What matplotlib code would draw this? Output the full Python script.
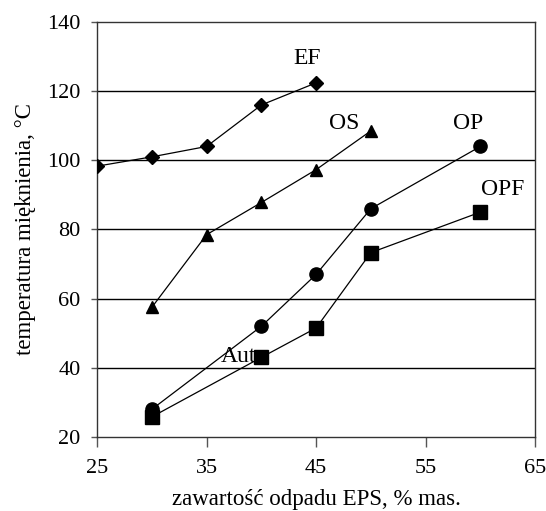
# -*- coding: utf-8 -*-

import matplotlib
matplotlib.use('Agg')
import matplotlib.pyplot as pyplot

# dane
ef_x = [25, 30, 35, 40, 45]
ef_y = [98.3, 101, 104, 116, 122.4]

os_x = [30, 35, 40, 45, 50]
os_y = [57.5, 78.5, 87.8, 97.3, 108.5]

op_x = [30, 40, 45, 50, 60]
op_y = [28, 52, 67, 86, 104]

opf_x = [30, 40, 45, 50, 60]
opf_y = [25.8, 43, 51.5, 73.3, 85]

x_ticks = [25, 35, 45, 55, 65]
y_ticks = [20, 40, 60, 80, 100, 120, 140]

pyplot.rcParams['font.family'] = ['Liberation Serif', 'DejaVu Serif']

fig = pyplot.figure(figsize=(5.46, 5.11), dpi=100)
axs = fig.add_axes([0.178, 0.145, 0.802, 0.812])

for y in y_ticks[1:-1]:
    axs.axhline(y, color='black', lw=1.0, zorder=1)

line_kw = dict(color='black', lw=0.9, zorder=3)
axs.plot(ef_x, ef_y, marker='D', ms=7, **line_kw)
axs.plot(os_x, os_y, marker='^', ms=9, **line_kw)
axs.plot(op_x, op_y, marker='o', ms=9.5, **line_kw)
axs.plot(opf_x, opf_y, marker='s', ms=9.5, **line_kw)

text_kw = dict(fontsize=17, ha='center', va='center')
axs.text(44.2, 129.5, 'EF', **text_kw)
axs.text(47.6, 110.5, 'OS', **text_kw)
axs.text(58.9, 110.5, 'OP', **text_kw)
axs.text(62.0, 91.5, 'OPF', **text_kw)
axs.text(37.9, 43.2, 'Aut', **text_kw)

axs.set_xlim(25, 65)
axs.set_ylim(20, 140)
axs.set_xticks(x_ticks)
axs.set_yticks(y_ticks)
axs.tick_params(axis='x', direction='out', length=7, width=1, pad=9,
                labelsize=16, color='#555555')
axs.tick_params(axis='y', direction='out', length=4, width=1, pad=8,
                labelsize=16, color='#555555')
for s in axs.spines.values():
    s.set_linewidth(1.0)
    s.set_color('#333333')

axs.set_xlabel('zawartość odpadu EPS, % mas.', fontsize=16.5, labelpad=8)
axs.set_ylabel('temperatura mięknienia, °C', fontsize=16.5, labelpad=8)

fig.savefig('out.png', dpi=100)
pyplot.close(fig)
